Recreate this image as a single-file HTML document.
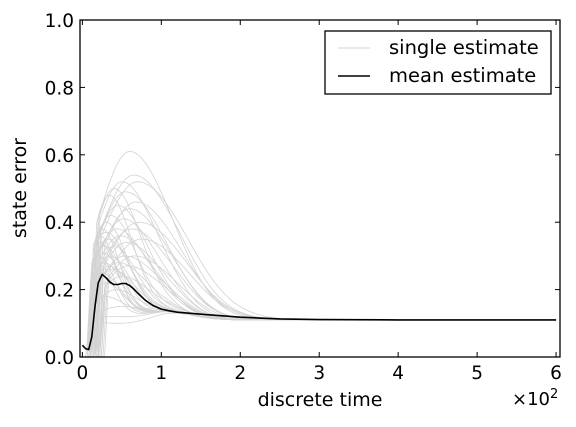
<!DOCTYPE html>
<html><head><meta charset="utf-8"><style>
body{margin:0;background:#fff;}
svg{font-family:"DejaVu Sans","Liberation Sans",sans-serif;}
</style></head><body>
<svg id="c" width="576" height="422" viewBox="0 0 576 422"></svg>
<script>
const xTicks=[0,100,200,300,400,500,600];
const xTickLabels=["0","1","2","3","4","5","6"];
const yTicks=[0,0.2,0.4,0.6,0.8,1.0];
const yTickLabels=["0.0","0.2","0.4","0.6","0.8","1.0"];
const meanT=[0,4,8,12,16,20,25,30,35,40,45,50,55,60,65,70,80,90,100,110,120,150,200,250,300,400,500,600];
const meanV=[0.035,0.025,0.022,0.06,0.15,0.22,0.245,0.235,0.222,0.215,0.215,0.218,0.218,0.212,0.202,0.19,0.168,0.152,0.142,0.137,0.133,0.127,0.118,0.113,0.111,0.110,0.110,0.110];
// single-estimate hump parameters
const peakT=[20,22,24,25,27,28,30,30,32,34,35,36,38,40,40,42,44,45,46,48,50,50,52,54,55,56,58,60,60,62,65,66,68,70,72,75,36,44,50,28,18,22,26,30,33];
const peakV=[0.30,0.36,0.25,0.38,0.33,0.28,0.40,0.22,0.35,0.48,0.30,0.42,0.26,0.50,0.33,0.20,0.38,0.45,0.28,0.36,0.52,0.24,0.41,0.30,0.49,0.34,0.27,0.61,0.44,0.38,0.54,0.30,0.46,0.52,0.40,0.35,0.12,0.10,0.15,0.18,0.28,0.34,0.31,0.37,0.27];
const startT=[6,8,6,10,8,12,10,14,9,12,16,11,15,13,18,20,12,14,17,15,13,22,16,18,14,20,24,16,19,21,17,26,22,18,24,28,14,18,20,8,5,7,9,8,11];
const L=80,R=560,T=20,B=357,x0=-3,x1=605;
const X=t=>L+(t-x0)/(x1-x0)*(R-L);
const Y=v=>B-v*(B-T);
const svg=document.getElementById('c');
const NS='http://www.w3.org/2000/svg';
function mk(tag,attrs,parent){const e=document.createElementNS(NS,tag);for(const k in attrs)e.setAttribute(k,attrs[k]);(parent||svg).appendChild(e);return e;}
const clip=mk('clipPath',{id:'pc'});mk('rect',{x:L,y:T,width:R-L,height:B-T},clip);
const g=mk('g',{'clip-path':'url(#pc)'});


for(let i=0;i<peakT.length;i++){
  let d='';
  for(let t=0;t<=600;t+=(t<200?2:10)){
    let v;
    const base=0.11+0.025*Math.exp(-Math.pow((t-105)/45,2));
    const w=(peakT[i]-startT[i])*1.1+8;
    if(t<startT[i]) v=0.0;
    else{
      const h=Math.exp(-Math.pow((t-peakT[i])/w,2));
      const rise=Math.min(1,(t-startT[i])/6);
      v=(base+(peakV[i]-base)*h)*rise;
      if(t>peakT[i]) v=base+(peakV[i]-base)*Math.exp(-Math.pow((t-peakT[i])/(w*1.3),2));
    }
    d+=(d?'L':'M')+X(t).toFixed(1)+','+Y(v).toFixed(1);
  }
  const p=mk('path',{d:d,fill:'none',stroke:'#d3d3d3','stroke-width':0.8},g);
  
  
}
let md='';meanT.forEach((t,i)=>{md+=(i?'L':'M')+X(t).toFixed(1)+','+Y(meanV[i]).toFixed(1);});
const mp=mk('path',{d:md,fill:'none',stroke:'#000','stroke-width':1.6,'stroke-linejoin':'round'},g);


const fr=mk('rect',{x:L,y:T,width:R-L,height:B-T,fill:'none',stroke:'#000','stroke-width':1.3});


xTicks.forEach((t,i)=>{
  mk('line',{x1:X(t),x2:X(t),y1:B,y2:B-5,stroke:'#000'});
  mk('line',{x1:X(t),x2:X(t),y1:T,y2:T+5,stroke:'#000'});
  const tx=mk('text',{x:X(t),y:B+22,'text-anchor':'middle','font-size':18.5});
  tx.textContent=xTickLabels[i];
  
  
});
yTicks.forEach((v,i)=>{
  mk('line',{x1:L,x2:L+5,y1:Y(v),y2:Y(v),stroke:'#000'});
  mk('line',{x1:R,x2:R-5,y1:Y(v),y2:Y(v),stroke:'#000'});
  const tx=mk('text',{x:L-6,y:Y(v)+7,'text-anchor':'end','font-size':18.5});
  tx.textContent=yTickLabels[i];
  
  
});
</script>
<svg width="576" height="422" style="position:absolute;left:0;top:0">
<text x="320" y="406" text-anchor="middle" font-size="19">discrete time</text>
<text transform="translate(26,188) rotate(-90)" text-anchor="middle" font-size="19">state error</text>
<text x="512" y="405" font-size="18">×10<tspan font-size="13" dy="-7">2</tspan></text>
<g>
<rect x="325" y="31" width="226" height="63" fill="#fff" stroke="#000" stroke-width="1.3"/>
<line x1="338" y1="48" x2="370" y2="48" stroke="#d3d3d3" stroke-width="1"/>
<text x="389" y="54" font-size="19.5">single estimate</text>
<line x1="338" y1="76" x2="370" y2="76" stroke="#000" stroke-width="1.6"/>
<text x="389" y="82" font-size="19.5">mean estimate</text>
</g>
</svg>
</body></html>
